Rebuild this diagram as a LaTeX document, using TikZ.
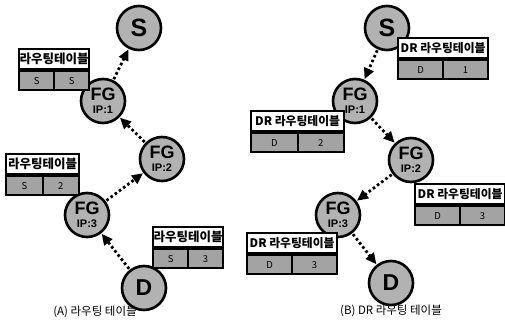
\documentclass[tikz,border=0pt]{standalone}
\usepackage{fontspec}
\setmainfont{Liberation Sans}
\newfontfamily\kr{Noto Sans CJK KR}
\usetikzlibrary{arrows.meta}
\newcommand\rtable[7]{%
  \node[hdr,minimum width=#4pt,anchor=north west] (#1h) at (#2,#3) {#5};
  \node[cellbox,minimum width=#4/2pt,anchor=north west] (#1a) at (#1h.south west) {#6};
  \node[cellbox,minimum width=#4/2pt,anchor=north east] (#1b) at (#1h.south east) {#7};
}
\newcommand\fgtxt[1]{{\fontsize{18}{18}\selectfont FG}\\[1pt]{\fontsize{11}{11}\selectfont IP:#1}}
\begin{document}
\begin{tikzpicture}[x=1pt,y=-1pt,
  nd/.style={circle,draw=black,line width=2.6pt,fill=black!30,minimum size=44pt,inner sep=0pt,align=center,font=\bfseries},
  hdr/.style={draw=black,line width=2.2pt,fill=white,minimum height=20pt,inner sep=0pt,font=\kr\bfseries\fontsize{12.5}{13}\selectfont},
  hdrb/.style={hdr,font=\kr\bfseries\fontsize{11.8}{12}\selectfont},
  cellbox/.style={draw=black,line width=2.2pt,fill=black!36,minimum height=19pt,inner sep=0pt,font=\kr\fontsize{9.5}{10}\selectfont},
  arr/.style={line width=2.8pt,dash pattern=on 2.6pt off 2.6pt,-{Triangle[length=11pt,width=10pt]},shorten <=1pt,shorten >=0.5pt},
  captxt/.style={font=\kr\fontsize{11.5}{12}\selectfont}]
\useasboundingbox (0,0) rectangle (505,326);
% ---- (A)
\node[nd,font=\bfseries\fontsize{25}{25}\selectfont] (aS) at (139,28) {S};
\node[nd] (a1) at (103,101) {\fgtxt{1}};
\node[nd] (a2) at (162,159) {\fgtxt{2}};
\node[nd] (a3) at (87,215) {\fgtxt{3}};
\node[nd,font=\bfseries\fontsize{23}{23}\selectfont] (aD) at (144,288) {D};
\draw[arr] (aD) -- (a3);
\draw[arr] (a3) -- (a2);
\draw[arr] (a2) -- (a1);
\draw[arr] (a1) -- (aS);
\rtable{ta1}{18}{48}{70}{라우팅테이블}{S}{S}
\rtable{ta2}{5}{153}{73}{라우팅테이블}{S}{2}
\rtable{ta3}{152}{226}{70}{라우팅테이블}{S}{3}
\node[captxt] (capA) at (95,312) {(A) 라우팅 테이블};
% ---- (B)
\node[nd,font=\bfseries\fontsize{25}{25}\selectfont] (bS) at (387,28) {S};
\node[nd] (b1) at (355,101) {\fgtxt{1}};
\node[nd] (b2) at (411,160) {\fgtxt{2}};
\node[nd] (b3) at (338,215) {\fgtxt{3}};
\node[nd,font=\bfseries\fontsize{23}{23}\selectfont] (bD) at (391,283) {D};
\draw[arr] (bS) -- (b1);
\draw[arr] (b1) -- (b2);
\draw[arr] (b2) -- (b3);
\draw[arr] (b3) -- (bD);
\begin{scope}[hdr/.style={draw=black,line width=2.2pt,fill=white,minimum height=20pt,inner sep=0pt,font=\kr\bfseries\fontsize{11.8}{12}\selectfont}]
\rtable{tb0}{397}{37}{90}{DR 라우팅테이블}{D}{1}
\rtable{tb1}{250}{110}{93}{DR 라우팅테이블}{D}{2}
\rtable{tb2}{414}{183}{90}{DR 라우팅테이블}{D}{3}
\rtable{tb3}{246}{232}{90}{DR 라우팅테이블}{D}{3}
\end{scope}
\node[captxt] (capB) at (391,311) {(B) DR 라우팅 테이블};
\end{tikzpicture}
\end{document}
